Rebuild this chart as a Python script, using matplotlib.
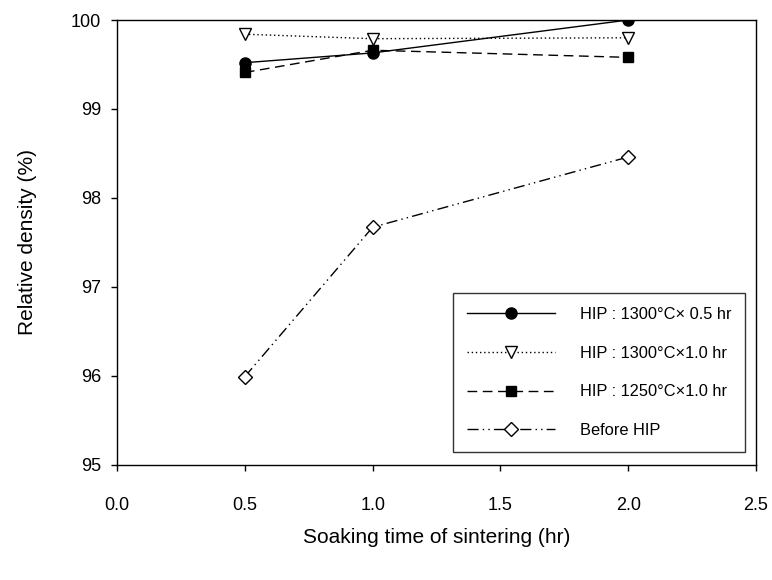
import matplotlib
matplotlib.use("Agg")
import matplotlib.pyplot as plt

plt.rcParams['font.family'] = ['Liberation Sans', 'DejaVu Sans']

# ---------------- data ---------------- #
soak_time = [0.5, 1.0, 2.0]

hip_1300_05 = [99.52, 99.63, 100.0]
hip_1300_10 = [99.84, 99.79, 99.80]
hip_1250_10 = [99.41, 99.66, 99.58]
before_hip = [95.99, 97.67, 98.46]

labels = ['HIP : 1300°C× 0.5 hr', 'HIP : 1300°C×1.0 hr',
          'HIP : 1250°C×1.0 hr', 'Before HIP']

x_ticks = [0.0, 0.5, 1.0, 1.5, 2.0, 2.5]
y_ticks = [95, 96, 97, 98, 99, 100]

# ---------------- plot ---------------- #
fig = plt.figure(figsize=(7.72, 5.80), dpi=100)
ax = fig.add_axes([0.1516, 0.1988, 0.8277, 0.7667])

ax.plot(soak_time, hip_1300_05, color='black', lw=1.0, ls='-',
        marker='o', ms=8, mfc='black', mec='black', label=labels[0])
ax.plot(soak_time, hip_1300_10, color='black', lw=1.0, ls=(0, (1, 2)),
        marker='v', ms=8, mfc='white', mec='black', mew=1.0, label=labels[1])
ax.plot(soak_time, hip_1250_10, color='black', lw=1.0, ls=(0, (7, 4)),
        marker='s', ms=7.5, mfc='black', mec='black', label=labels[2])
ax.plot(soak_time, before_hip, color='black', lw=1.0, ls=(0, (8, 3, 1, 3, 1, 3)),
        marker='D', ms=7, mfc='white', mec='black', mew=1.0, label=labels[3])

ax.set_xlim(0, 2.5)
ax.set_ylim(95, 100)
ax.set_xticks(x_ticks)
ax.set_xticklabels(['%.1f' % t for t in x_ticks])
ax.set_yticks(y_ticks)

ax.tick_params(direction='out', length=4.3, width=1, color='black')
ax.tick_params(axis='x', pad=19)
ax.tick_params(axis='y', pad=7)
for lab in ax.get_xticklabels() + ax.get_yticklabels():
    lab.set_fontfamily(['Liberation Sans Narrow', 'Liberation Sans'])
    lab.set_fontsize(13)
for sp in ax.spines.values():
    sp.set_linewidth(1.0)

ax.set_xlabel('Soaking time of sintering (hr)', fontsize=15, va='center')
ax.set_ylabel('Relative density (%)', fontsize=15, va='center')
ax.xaxis.set_label_coords(0.5, -0.1626)
ax.yaxis.set_label_coords(-0.14, 0.5)

leg = ax.legend(loc='lower right', bbox_to_anchor=(0.983, 0.0286),
                frameon=True, fancybox=False, edgecolor='black',
                fontsize=11.8, handlelength=5.4, labelspacing=1.45,
                borderpad=0.85, handletextpad=1.5, borderaxespad=0)
leg.get_frame().set_linewidth(1.0)

fig.savefig('out.png', dpi=100)
